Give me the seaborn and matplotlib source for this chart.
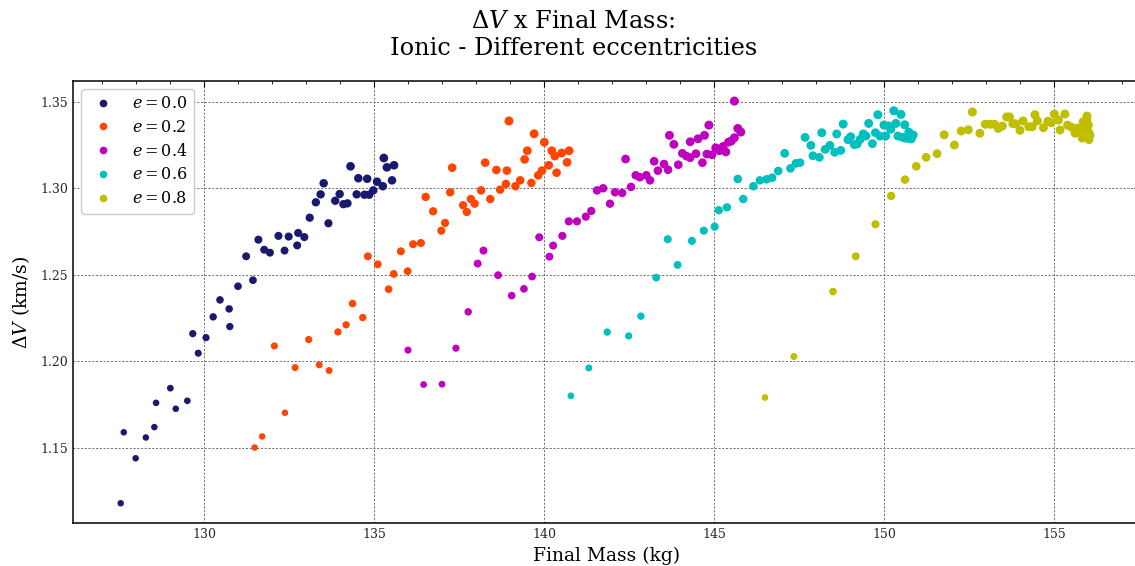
import numpy as np
import pandas as pd
import matplotlib
matplotlib.use("Agg")
import matplotlib.pyplot as plt
from matplotlib.lines import Line2D
from matplotlib.ticker import AutoMinorLocator, FormatStrFormatter
import seaborn as sns

# Final mass (kg) and delta-V (km/s) per eccentricity case
mass_e00 = [127.54, 127.63, 127.98, 128.28, 128.53, 128.58, 129.00, 129.16, 129.50, 129.66,
            129.82, 130.05, 130.26, 130.46, 130.73, 130.75, 130.99, 131.23, 131.43, 131.59,
            131.76, 131.93, 132.18, 132.36, 132.48, 132.73, 132.76, 132.94, 133.10, 133.28,
            133.42, 133.51, 133.65, 133.85, 133.98, 134.09, 134.21, 134.30, 134.48, 134.53,
            134.71, 134.79, 134.85, 134.97, 135.08, 135.25, 135.28, 135.37, 135.52, 135.58]
dv_e00 = [1.118, 1.159, 1.144, 1.156, 1.162, 1.176, 1.1845, 1.1726, 1.1772, 1.2160,
          1.2047, 1.2137, 1.2257, 1.2355, 1.2303, 1.2201, 1.2434, 1.2607, 1.2469, 1.2703,
          1.2645, 1.2628, 1.2725, 1.2640, 1.2721, 1.2670, 1.2742, 1.2718, 1.2830, 1.2919,
          1.2965, 1.3029, 1.2798, 1.2928, 1.2967, 1.2908, 1.2913, 1.3127, 1.2965, 1.3058,
          1.2963, 1.3055, 1.2963, 1.2988, 1.3038, 1.3012, 1.3175, 1.3121, 1.3046, 1.3133]

mass_e02 = [131.48, 131.70, 132.37, 132.06, 132.67, 133.07, 133.38, 133.67, 133.93, 134.17,
            134.36, 134.66, 134.81, 135.10, 135.42, 135.57, 135.78, 135.98, 136.14, 136.37,
            136.51, 136.73, 136.97, 137.08, 137.23, 137.29, 137.61, 137.72, 137.84, 137.95,
            138.14, 138.26, 138.41, 138.59, 138.70, 138.87, 138.90, 138.96, 139.15, 139.29,
            139.42, 139.50, 139.62, 139.70, 139.82, 139.93, 140.00, 140.13, 140.22, 140.31,
            140.36, 140.51, 140.67, 140.73]
dv_e02 = [1.1502, 1.1566, 1.1703, 1.2089, 1.1964, 1.2126, 1.1980, 1.1947, 1.2170, 1.2211,
          1.2334, 1.2253, 1.2607, 1.2561, 1.2417, 1.2505, 1.2636, 1.2521, 1.2677, 1.2684,
          1.2950, 1.2867, 1.2755, 1.2800, 1.2977, 1.3119, 1.2902, 1.2863, 1.2938, 1.2911,
          1.2988, 1.3148, 1.2938, 1.3106, 1.2992, 1.3025, 1.3102, 1.3389, 1.3012, 1.3046,
          1.3167, 1.3217, 1.3031, 1.3315, 1.3075, 1.3102, 1.3266, 1.3133, 1.3217, 1.3186,
          1.3090, 1.3204, 1.3150, 1.3217]

mass_e04 = [135.99, 136.45, 136.99, 137.40, 137.76, 138.04, 138.21, 138.64, 139.04, 139.40,
            139.64, 139.85, 140.15, 140.26, 140.53, 140.72, 140.96, 141.22, 141.38, 141.55,
            141.73, 141.93, 142.08, 142.29, 142.39, 142.55, 142.69, 142.81, 143.00, 143.11,
            143.23, 143.34, 143.52, 143.64, 143.68, 143.81, 143.94, 144.06, 144.18, 144.29,
            144.29, 144.46, 144.52, 144.65, 144.71, 144.78, 144.84, 144.93, 145.04, 145.15,
            145.26, 145.34, 145.42, 145.50, 145.59, 145.59, 145.69, 145.78]
dv_e04 = [1.2065, 1.1866, 1.1868, 1.2076, 1.2286, 1.2565, 1.2640, 1.2498, 1.2380, 1.2419,
          1.2490, 1.2717, 1.2605, 1.2669, 1.2725, 1.2809, 1.2809, 1.2836, 1.2869, 1.2988,
          1.3000, 1.2911, 1.2977, 1.2973, 1.3169, 1.3008, 1.3075, 1.3064, 1.3075, 1.3046,
          1.3156, 1.3102, 1.3140, 1.3107, 1.3306, 1.3254, 1.3136, 1.3202, 1.3186, 1.3177,
          1.3269, 1.3200, 1.3286, 1.3148, 1.3306, 1.3198, 1.3365, 1.3194, 1.3234, 1.3217,
          1.3242, 1.3210, 1.3267, 1.3273, 1.3292, 1.3504, 1.3346, 1.3325]

mass_e06 = [140.78, 141.31, 141.85, 142.48, 142.84, 143.29, 143.63, 143.92, 144.34, 144.69,
            145.01, 145.13, 145.37, 145.69, 145.85, 146.15, 146.34, 146.54, 146.70, 146.88,
            147.07, 147.24, 147.40, 147.52, 147.67, 147.84, 147.90, 148.09, 148.16, 148.26,
            148.40, 148.54, 148.60, 148.72, 148.79, 148.93, 149.01, 149.12, 149.20, 149.29,
            149.38, 149.46, 149.54, 149.65, 149.74, 149.81, 149.87, 149.99, 150.04, 150.12,
            150.19, 150.28, 150.34, 150.40, 150.49, 150.54, 150.60, 150.64, 150.71, 150.79,
            150.85, 150.72, 150.79]
dv_e06 = [1.1801, 1.1962, 1.2169, 1.2147, 1.2261, 1.2484, 1.2706, 1.2557, 1.2696, 1.2755,
          1.2778, 1.2873, 1.2890, 1.3054, 1.2938, 1.3012, 1.3046, 1.3052, 1.3061, 1.3100,
          1.3202, 1.3115, 1.3144, 1.3148, 1.3294, 1.3248, 1.3188, 1.3179, 1.3321, 1.3225,
          1.3248, 1.3208, 1.3314, 1.3219, 1.3371, 1.3281, 1.3298, 1.3252, 1.3256, 1.3283,
          1.3314, 1.3302, 1.3375, 1.3258, 1.3321, 1.3425, 1.3302, 1.3365, 1.3302, 1.3360,
          1.3341, 1.3448, 1.3375, 1.3302, 1.3427, 1.3294, 1.3367, 1.3289, 1.3289, 1.3298,
          1.3308, 1.3325, 1.3285]

mass_e08 = [146.49, 147.34, 148.49, 149.16, 149.74, 150.20, 150.61, 150.94, 151.23, 151.55,
            151.76, 152.06, 152.26, 152.47, 152.59, 152.81, 152.97, 153.11, 153.24, 153.35,
            153.47, 153.60, 153.68, 153.78, 153.86, 153.99, 154.08, 154.25, 154.35, 154.43,
            154.50, 154.68, 154.81, 154.91, 155.00, 155.12, 155.17, 155.31, 155.39, 155.51,
            155.61, 155.76, 155.85, 155.95, 156.00, 156.05, 156.00, 155.90, 155.70, 155.82,
            155.96, 156.02]
dv_e08 = [1.1791, 1.2028, 1.2403, 1.2607, 1.2792, 1.2956, 1.3050, 1.3127, 1.3179, 1.3200,
          1.3309, 1.3250, 1.3331, 1.3338, 1.3441, 1.3318, 1.3370, 1.3370, 1.3370, 1.3346,
          1.3360, 1.3412, 1.3412, 1.3373, 1.3373, 1.3335, 1.3389, 1.3356, 1.3356, 1.3425,
          1.3390, 1.3350, 1.3387, 1.3379, 1.3429, 1.3394, 1.3337, 1.3429, 1.3365, 1.3352,
          1.3318, 1.3318, 1.3385, 1.3394, 1.3327, 1.3308, 1.3365, 1.3346, 1.3348, 1.3290,
          1.3417, 1.3281]

labels = ["$e = 0.0$", "$e = 0.2$", "$e = 0.4$", "$e = 0.6$", "$e = 0.8$"]
colors = ["#191970", "#FF4500", "#BF00BF", "#00BFBF", "#BFBF00"]

masses = [mass_e00, mass_e02, mass_e04, mass_e06, mass_e08]
dvs = [dv_e00, dv_e02, dv_e04, dv_e06, dv_e08]
df = pd.concat(
    [pd.DataFrame({"mass": m, "dv": v, "case": lab}) for m, v, lab in zip(masses, dvs, labels)],
    ignore_index=True,
)
# marker area grows with delta-V, saturating at both ends
df["msize"] = df["dv"].clip(1.17, 1.34)

sns.set_style("white")
plt.rcParams["font.family"] = ["serif"]
plt.rcParams["font.serif"] = ["DejaVu Serif"]
plt.rcParams["mathtext.fontset"] = "dejavuserif"
plt.rcParams["text.color"] = "black"
plt.rcParams["axes.labelcolor"] = "black"

fig = plt.figure(figsize=(11.35, 5.66), dpi=100)
ax = fig.add_axes([0.0641, 0.0754, 0.94, 0.7815])

sns.scatterplot(
    data=df, x="mass", y="dv", hue="case", hue_order=labels, palette=colors,
    size="msize", sizes=(22, 42), linewidth=0, legend=False, ax=ax,
)

ax.set_xlim(126.13, 157.51)
ax.set_ylim(1.1064, 1.362)

ax.xaxis.set_minor_locator(AutoMinorLocator(5))
ax.yaxis.set_minor_locator(AutoMinorLocator(5))
ax.tick_params(which="both", direction="in", top=True, right=True, labelsize=9,
               color="black", labelcolor="0.15")
ax.tick_params(which="major", length=4, width=0.8)
ax.tick_params(which="minor", length=2.5, width=0.6)
ax.set_xticks([130, 135, 140, 145, 150, 155])
ax.set_yticks([1.15, 1.20, 1.25, 1.30, 1.35])
ax.yaxis.set_major_formatter(FormatStrFormatter("%.2f"))

ax.grid(True, which="major", color="0.35", linestyle=(0, (2.5, 2)), linewidth=0.6)
for side in ax.spines.values():
    side.set_color("black")
    side.set_linewidth(1.1)

ax.set_xlabel("Final Mass (kg)", fontsize=13.5, labelpad=4)
ax.set_ylabel(r"$\Delta V$ (km/s)", fontsize=13.5, labelpad=6)
ax.set_title("$\\Delta V$ x Final Mass:\nIonic - Different eccentricities",
             fontsize=17.3, pad=19, color="black", x=0.469)

handles = [Line2D([0], [0], marker="o", linestyle="none", markersize=5.5,
                  markerfacecolor=c, markeredgewidth=0) for c in colors]
ax.legend(handles, labels, loc="upper left", fontsize=11.5, frameon=True,
          fancybox=True, framealpha=1.0, edgecolor="0.8", labelspacing=0.42)

fig.savefig("out.png", dpi=100)
